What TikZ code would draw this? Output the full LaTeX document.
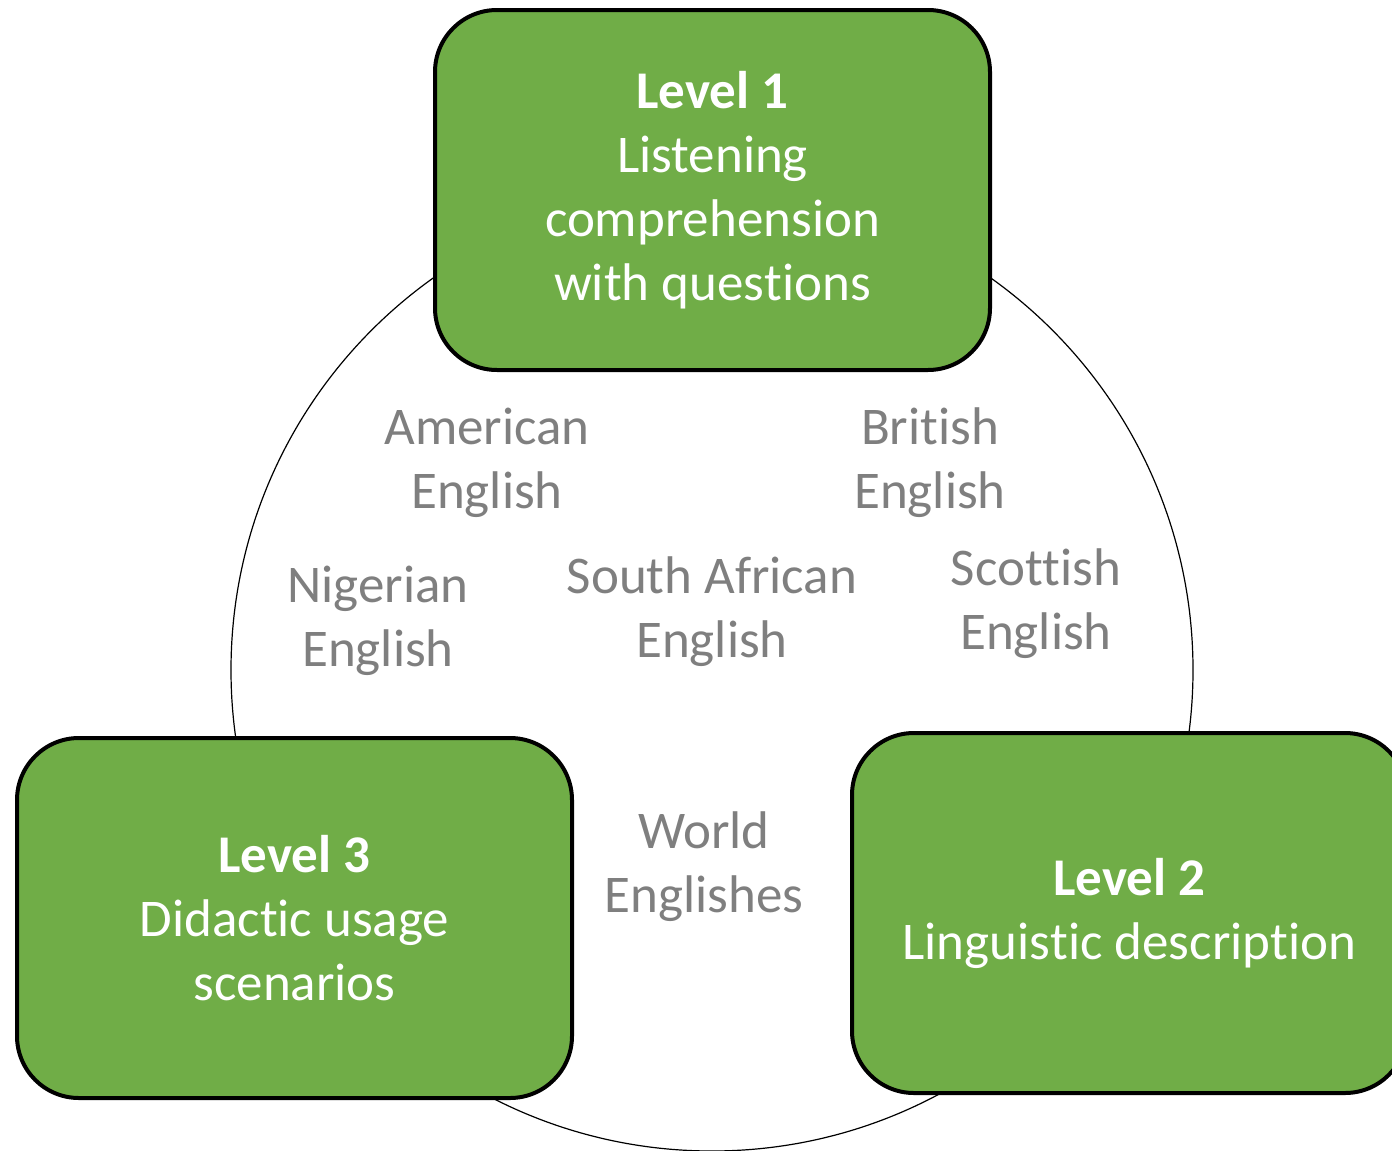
\documentclass[tikz,border=0pt]{standalone}
\usepackage{fontspec}
\setmainfont{Carlito}[Ligatures={NoCommon,NoRequired,NoContextual},Contextuals=NoAlternate]
\definecolor{lvgreen}{HTML}{70AD47}
\definecolor{vargray}{HTML}{7F7F7F}
\newcommand{\nl}{\mbox{t}i}
\begin{document}
\begin{tikzpicture}[x=1pt,y=-1pt,
  levelbox/.style={draw=black, line width=4pt, fill=lvgreen, rounded corners=62pt,
    minimum width=555pt, minimum height=360pt, align=center, text=white,
    font=\fontsize{53}{64}\selectfont, inner sep=0pt},
  variety/.style={align=center, text=vargray, font=\fontsize{53}{64}\selectfont, inner sep=0pt}]
\useasboundingbox (0,0) rectangle (1392,1151);
\clip (0,0) rectangle (1392,1151);
\node (ring) [circle, draw=black, line width=1.2pt, minimum size=962pt, inner sep=0pt] at (712,670) {};
\node (l1) [levelbox] at (712.5,190) {\textbf{Level 1}\\Listening\\comprehension\\with ques\nl ons};
\node (l3) [levelbox] at (294.5,918) {\textbf{Level 3}\\Didac\nl c usage\\scenarios};
\node (l2) [levelbox] at (1129.5,913) {\textbf{Level 2}\\Linguis\nl c descrip\nl on};
\node (am) [variety] at (487,463) {American\\English};
\node (br) [variety] at (930,463) {Bri\nl sh\\English};
\node (ng) [variety] at (378,621) {Nigerian\\English};
\node (sa) [variety] at (712,612) {South African\\English};
\node (sc) [variety] at (1036,604) {Scot\nl sh\\English};
\node (we) [variety] at (704,867) {World\\Englishes};
\end{tikzpicture}
\end{document}
